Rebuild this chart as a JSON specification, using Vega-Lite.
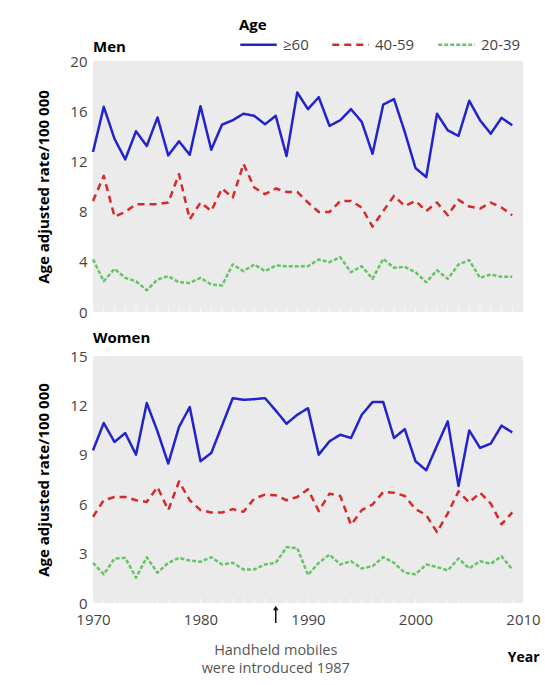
{
  "$schema": "https://vega.github.io/schema/vega-lite/v6.json",
  "background": "white",
  "padding": {"left": 36, "top": 18, "right": 4, "bottom": 4},
  "data": {"values": [
    {"sex":"Men","year":1970,"≥60":12.75,"40-59":8.85,"20-39":4.19},
    {"sex":"Men","year":1971,"≥60":16.35,"40-59":10.85,"20-39":2.45},
    {"sex":"Men","year":1972,"≥60":13.8,"40-59":7.6,"20-39":3.44},
    {"sex":"Men","year":1973,"≥60":12.16,"40-59":7.97,"20-39":2.72},
    {"sex":"Men","year":1974,"≥60":14.4,"40-59":8.59,"20-39":2.45},
    {"sex":"Men","year":1975,"≥60":13.23,"40-59":8.59,"20-39":1.73},
    {"sex":"Men","year":1976,"≥60":15.5,"40-59":8.59,"20-39":2.59},
    {"sex":"Men","year":1977,"≥60":12.48,"40-59":8.72,"20-39":2.85},
    {"sex":"Men","year":1978,"≥60":13.6,"40-59":10.99,"20-39":2.37},
    {"sex":"Men","year":1979,"≥60":12.53,"40-59":7.39,"20-39":2.32},
    {"sex":"Men","year":1980,"≥60":16.4,"40-59":8.72,"20-39":2.72},
    {"sex":"Men","year":1981,"≥60":12.93,"40-59":8.05,"20-39":2.19},
    {"sex":"Men","year":1982,"≥60":14.93,"40-59":9.84,"20-39":2.11},
    {"sex":"Men","year":1983,"≥60":15.28,"40-59":9.12,"20-39":3.79},
    {"sex":"Men","year":1984,"≥60":15.8,"40-59":11.8,"20-39":3.25},
    {"sex":"Men","year":1985,"≥60":15.63,"40-59":9.92,"20-39":3.79},
    {"sex":"Men","year":1986,"≥60":14.96,"40-59":9.39,"20-39":3.25},
    {"sex":"Men","year":1987,"≥60":15.63,"40-59":9.84,"20-39":3.71},
    {"sex":"Men","year":1988,"≥60":12.43,"40-59":9.57,"20-39":3.65},
    {"sex":"Men","year":1989,"≥60":17.49,"40-59":9.57,"20-39":3.65},
    {"sex":"Men","year":1990,"≥60":16.16,"40-59":8.72,"20-39":3.65},
    {"sex":"Men","year":1991,"≥60":17.12,"40-59":7.97,"20-39":4.19},
    {"sex":"Men","year":1992,"≥60":14.83,"40-59":7.97,"20-39":3.97},
    {"sex":"Men","year":1993,"≥60":15.28,"40-59":8.85,"20-39":4.37},
    {"sex":"Men","year":1994,"≥60":16.16,"40-59":8.85,"20-39":3.17},
    {"sex":"Men","year":1995,"≥60":15.15,"40-59":8.32,"20-39":3.65},
    {"sex":"Men","year":1996,"≥60":12.61,"40-59":6.8,"20-39":2.64},
    {"sex":"Men","year":1997,"≥60":16.53,"40-59":8.05,"20-39":4.24},
    {"sex":"Men","year":1998,"≥60":16.96,"40-59":9.25,"20-39":3.52},
    {"sex":"Men","year":1999,"≥60":14.35,"40-59":8.45,"20-39":3.6},
    {"sex":"Men","year":2000,"≥60":11.47,"40-59":8.85,"20-39":3.17},
    {"sex":"Men","year":2001,"≥60":10.75,"40-59":8.05,"20-39":2.37},
    {"sex":"Men","year":2002,"≥60":15.8,"40-59":8.72,"20-39":3.33},
    {"sex":"Men","year":2003,"≥60":14.48,"40-59":7.71,"20-39":2.64},
    {"sex":"Men","year":2004,"≥60":14.03,"40-59":8.93,"20-39":3.79},
    {"sex":"Men","year":2005,"≥60":16.83,"40-59":8.4,"20-39":4.13},
    {"sex":"Men","year":2006,"≥60":15.28,"40-59":8.24,"20-39":2.72},
    {"sex":"Men","year":2007,"≥60":14.21,"40-59":8.72,"20-39":2.99},
    {"sex":"Men","year":2008,"≥60":15.47,"40-59":8.32,"20-39":2.8},
    {"sex":"Men","year":2009,"≥60":14.88,"40-59":7.71,"20-39":2.8},
    {"sex":"Women","year":1970,"≥60":9.27,"40-59":5.24,"20-39":2.44},
    {"sex":"Women","year":1971,"≥60":10.93,"40-59":6.24,"20-39":1.74},
    {"sex":"Women","year":1972,"≥60":9.78,"40-59":6.44,"20-39":2.7},
    {"sex":"Women","year":1973,"≥60":10.32,"40-59":6.44,"20-39":2.74},
    {"sex":"Women","year":1974,"≥60":9.01,"40-59":6.24,"20-39":1.54},
    {"sex":"Women","year":1975,"≥60":12.14,"40-59":6.14,"20-39":2.78},
    {"sex":"Women","year":1976,"≥60":10.42,"40-59":7.04,"20-39":1.84},
    {"sex":"Women","year":1977,"≥60":8.47,"40-59":5.64,"20-39":2.44},
    {"sex":"Women","year":1978,"≥60":10.69,"40-59":7.38,"20-39":2.74},
    {"sex":"Women","year":1979,"≥60":11.9,"40-59":6.24,"20-39":2.58},
    {"sex":"Women","year":1980,"≥60":8.61,"40-59":5.64,"20-39":2.5},
    {"sex":"Women","year":1981,"≥60":9.11,"40-59":5.5,"20-39":2.78},
    {"sex":"Women","year":1982,"≥60":10.77,"40-59":5.5,"20-39":2.34},
    {"sex":"Women","year":1983,"≥60":12.44,"40-59":5.7,"20-39":2.44},
    {"sex":"Women","year":1984,"≥60":12.34,"40-59":5.54,"20-39":2.04},
    {"sex":"Women","year":1985,"≥60":12.38,"40-59":6.34,"20-39":2.04},
    {"sex":"Women","year":1986,"≥60":12.44,"40-59":6.58,"20-39":2.34},
    {"sex":"Women","year":1987,"≥60":11.69,"40-59":6.54,"20-39":2.44},
    {"sex":"Women","year":1988,"≥60":10.89,"40-59":6.24,"20-39":3.38},
    {"sex":"Women","year":1989,"≥60":11.43,"40-59":6.44,"20-39":3.34},
    {"sex":"Women","year":1990,"≥60":11.83,"40-59":6.9,"20-39":1.7},
    {"sex":"Women","year":1991,"≥60":9.01,"40-59":5.58,"20-39":2.44},
    {"sex":"Women","year":1992,"≥60":9.82,"40-59":6.64,"20-39":2.94},
    {"sex":"Women","year":1993,"≥60":10.22,"40-59":6.5,"20-39":2.34},
    {"sex":"Women","year":1994,"≥60":10.02,"40-59":4.74,"20-39":2.54},
    {"sex":"Women","year":1995,"≥60":11.43,"40-59":5.64,"20-39":2.1},
    {"sex":"Women","year":1996,"≥60":12.2,"40-59":5.98,"20-39":2.24},
    {"sex":"Women","year":1997,"≥60":12.2,"40-59":6.74,"20-39":2.78},
    {"sex":"Women","year":1998,"≥60":10.02,"40-59":6.7,"20-39":2.44},
    {"sex":"Women","year":1999,"≥60":10.56,"40-59":6.5,"20-39":1.84},
    {"sex":"Women","year":2000,"≥60":8.61,"40-59":5.7,"20-39":1.74},
    {"sex":"Women","year":2001,"≥60":8.06,"40-59":5.34,"20-39":2.34},
    {"sex":"Women","year":2002,"≥60":9.56,"40-59":4.3,"20-39":2.18},
    {"sex":"Women","year":2003,"≥60":11.03,"40-59":5.44,"20-39":1.98},
    {"sex":"Women","year":2004,"≥60":7.1,"40-59":6.78,"20-39":2.7},
    {"sex":"Women","year":2005,"≥60":10.48,"40-59":6.1,"20-39":2.1},
    {"sex":"Women","year":2006,"≥60":9.42,"40-59":6.7,"20-39":2.54},
    {"sex":"Women","year":2007,"≥60":9.68,"40-59":6.04,"20-39":2.38},
    {"sex":"Women","year":2008,"≥60":10.77,"40-59":4.78,"20-39":2.84},
    {"sex":"Women","year":2009,"≥60":10.36,"40-59":5.5,"20-39":2.04}
  ]},
  "spacing": 11,
  "vconcat": [
    {
      "title": {"text": "Men", "offset": -1},
      "width": 430,
      "height": 251,
      "transform": [{"filter": "datum.sex === 'Men'"}],
      "layer": [
        {
          "mark": {"type": "tick", "orient": "vertical", "color": "white", "size": 5, "thickness": 1, "yOffset": -2.5},
          "encoding": {
            "x": {"field": "year", "type": "quantitative", "scale": {"domain": [1970, 2010], "nice": false},
                  "axis": {"labels": false, "ticks": false, "domain": false, "grid": false, "title": null}},
            "y": {"datum": 0}
          }
        },
        {
          "transform": [{"fold": ["≥60", "40-59", "20-39"], "as": ["age", "rate"]}],
          "mark": {"type": "line", "strokeWidth": 2.5, "strokeJoin": "round"},
          "encoding": {
            "x": {"field": "year", "type": "quantitative"},
            "y": {"field": "rate", "type": "quantitative", "scale": {"domain": [0, 20], "nice": false},
                  "axis": {"values": [0, 4, 8, 12, 16, 20], "title": "Age adjusted rate/100 000"}},
            "color": {"field": "age", "type": "nominal",
                      "scale": {"domain": ["≥60", "40-59", "20-39"], "range": ["#2323cc", "#d42a2a", "#66c466"]},
                      "legend": {"title": "Age"}},
            "strokeDash": {"field": "age", "type": "nominal",
                           "scale": {"domain": ["≥60", "40-59", "20-39"], "range": [[1, 0], [7, 5], [4, 2]]},
                           "legend": {"title": "Age"}}
          }
        }
      ]
    },
    {
      "title": {"text": "Women", "offset": 3},
      "width": 430,
      "height": 247,
      "layer": [
        {
          "transform": [{"filter": "datum.sex === 'Women'"}],
          "mark": {"type": "tick", "orient": "vertical", "color": "white", "size": 5, "thickness": 1, "yOffset": -2.5},
          "encoding": {
            "x": {"field": "year", "type": "quantitative", "scale": {"domain": [1970, 2010], "nice": false},
                  "axis": {"values": [1970, 1980, 1990, 2000, 2010], "format": "d", "ticks": false, "domain": false, "grid": false,
                           "labelPadding": 9, "labelFlush": false,
                           "title": "Year", "titleFontSize": 14, "titleAnchor": "end", "titleAlign": "right", "titleX": 446, "titleY": 54, "titleBaseline": "middle"}},
            "y": {"datum": 0}
          }
        },
        {
          "transform": [
            {"filter": "datum.sex === 'Women'"},
            {"fold": ["≥60", "40-59", "20-39"], "as": ["age", "rate"]}
          ],
          "mark": {"type": "line", "strokeWidth": 2.5, "strokeJoin": "round"},
          "encoding": {
            "x": {"field": "year", "type": "quantitative"},
            "y": {"field": "rate", "type": "quantitative", "scale": {"domain": [0, 15], "nice": false},
                  "axis": {"values": [0, 3, 6, 9, 12, 15], "title": "Age adjusted rate/100 000"}},
            "color": {"field": "age", "type": "nominal",
                      "scale": {"domain": ["≥60", "40-59", "20-39"], "range": ["#2323cc", "#d42a2a", "#66c466"]},
                      "legend": {"title": "Age"}},
            "strokeDash": {"field": "age", "type": "nominal",
                           "scale": {"domain": ["≥60", "40-59", "20-39"], "range": [[1, 0], [7, 5], [4, 2]]},
                           "legend": {"title": "Age"}}
          }
        },
        {
          "data": {"values": [{"year": 1987, "note": ["Handheld mobiles", "were introduced 1987"]}]},
          "mark": {"type": "rule", "color": "#111", "strokeWidth": 1.5, "yOffset": 20, "y2Offset": 6},
          "encoding": {"x": {"field": "year", "type": "quantitative"}, "y": {"datum": 0}, "y2": {"datum": 0}}
        },
        {
          "data": {"values": [{"year": 1987, "note": ["Handheld mobiles", "were introduced 1987"]}]},
          "mark": {"type": "point", "shape": "triangle-up", "filled": true, "color": "#111", "size": 30, "opacity": 1, "yOffset": 5},
          "encoding": {"x": {"field": "year", "type": "quantitative"}, "y": {"datum": 0}}
        },
        {
          "data": {"values": [{"year": 1987, "note": ["Handheld mobiles", "were introduced 1987"]}]},
          "mark": {"type": "text", "baseline": "top", "align": "center", "fontSize": 14.5, "color": "#555", "lineHeight": 18, "yOffset": 41, "font": "Open Sans"},
          "encoding": {"x": {"field": "year", "type": "quantitative"}, "y": {"datum": 0}, "text": {"field": "note"}}
        }
      ]
    }
  ],
  "config": {
    "font": "Open Sans",
    "view": {"fill": "#ebebeb", "stroke": null},
    "title": {"anchor": "start", "frame": "group", "fontSize": 15, "fontWeight": "bold", "font": "Open Sans", "color": "#000"},
    "axis": {
      "labelFont": "Open Sans", "labelFontSize": 15, "labelColor": "#444", "labelPadding": 6,
      "titleFont": "Open Sans", "titleFontSize": 15, "titleFontWeight": "bold", "titleColor": "#000",
      "gridColor": "white", "gridWidth": 1.5, "gridOpacity": 1, "domain": false, "ticks": false
    },
    "axisY": {"titlePadding": 18},
    "legend": {
      "orient": "none", "legendX": 146, "legendY": -43, "direction": "horizontal",
      "symbolType": "stroke", "symbolSize": 1330, "symbolStrokeWidth": 2.5,
      "labelFontSize": 15, "labelColor": "#444", "labelFont": "Open Sans", "labelOffset": 5,
      "titleFontSize": 15, "titleFontWeight": "bold", "titleFont": "Open Sans", "titleColor": "#000",
      "columnPadding": 18, "titlePadding": -8
    }
  }
}
